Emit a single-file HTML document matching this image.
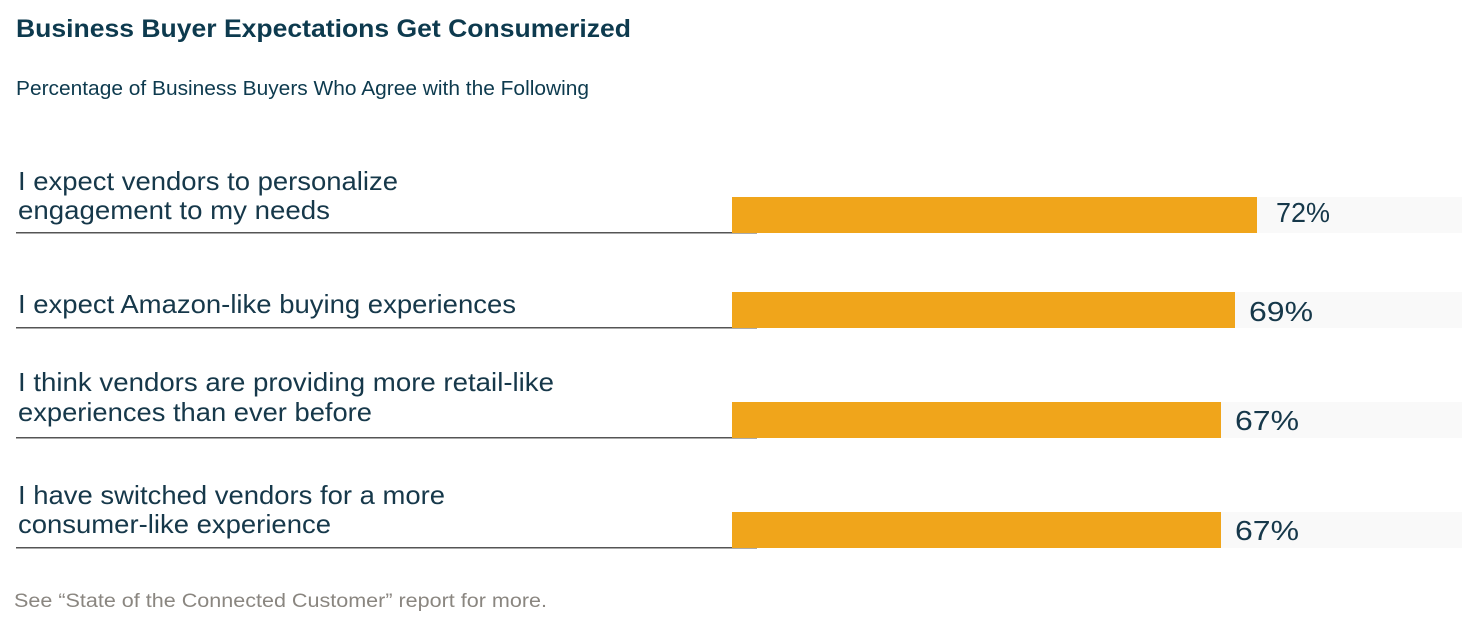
<!DOCTYPE html>
<html><head><meta charset="utf-8"><style>html,body{margin:0;padding:0;background:#fff}svg{display:block}</style></head>
<body>
<svg width="1482" height="626" xmlns="http://www.w3.org/2000/svg" font-family="Liberation Sans, sans-serif">
<text x="16" y="37" font-size="25" font-weight="bold" fill="#0d3a4e" textLength="615" lengthAdjust="spacingAndGlyphs">Business Buyer Expectations Get Consumerized</text>
<text x="16" y="95" font-size="20" fill="#0d3a4e" textLength="573" lengthAdjust="spacingAndGlyphs">Percentage of Business Buyers Who Agree with the Following</text>
<g fill="#f9f9f9">
<rect x="732" y="197" width="730" height="36"/>
<rect x="732" y="292" width="730" height="36"/>
<rect x="732" y="402" width="730" height="36"/>
<rect x="732" y="512" width="730" height="36"/>
</g>
<g fill="#555">
<rect x="16" y="232" width="741" height="1.5"/>
<rect x="16" y="327" width="741" height="1.5"/>
<rect x="16" y="437" width="741" height="1.5"/>
<rect x="16" y="547" width="741" height="1.5"/>
</g>
<g fill="#f0a51b">
<rect x="732" y="197" width="525" height="36"/>
<rect x="732" y="292" width="503" height="36"/>
<rect x="732" y="402" width="489" height="36"/>
<rect x="732" y="512" width="489" height="36"/>
</g>
<g font-size="26" fill="#16384a">
<text x="18" y="190" textLength="380" lengthAdjust="spacingAndGlyphs">I expect vendors to personalize</text>
<text x="18" y="219" textLength="312" lengthAdjust="spacingAndGlyphs">engagement to my needs</text>
<text x="18" y="313" textLength="498" lengthAdjust="spacingAndGlyphs">I expect Amazon-like buying experiences</text>
<text x="18" y="391" textLength="536" lengthAdjust="spacingAndGlyphs">I think vendors are providing more retail-like</text>
<text x="18" y="421" textLength="354" lengthAdjust="spacingAndGlyphs">experiences than ever before</text>
<text x="18" y="504" textLength="427" lengthAdjust="spacingAndGlyphs">I have switched vendors for a more</text>
<text x="18" y="533" textLength="313" lengthAdjust="spacingAndGlyphs">consumer-like experience</text>
</g>
<g font-size="28" fill="#16384a">
<text x="1276" y="222" textLength="54" lengthAdjust="spacingAndGlyphs">72%</text>
<text x="1249" y="321" textLength="64" lengthAdjust="spacingAndGlyphs">69%</text>
<text x="1235" y="430" textLength="64" lengthAdjust="spacingAndGlyphs">67%</text>
<text x="1235" y="540" textLength="64" lengthAdjust="spacingAndGlyphs">67%</text>
</g>
<text x="14" y="607" font-size="19" fill="#8a8680" textLength="533" lengthAdjust="spacingAndGlyphs">See “State of the Connected Customer” report for more.</text>
</svg>
</body></html>
